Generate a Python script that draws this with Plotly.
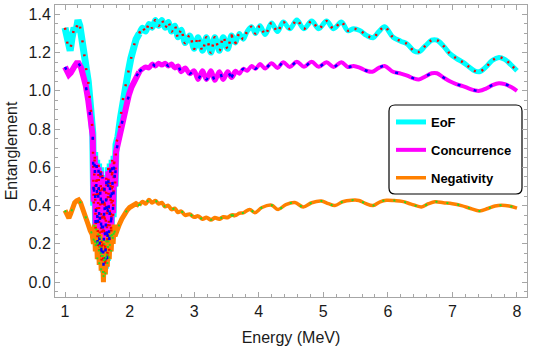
import plotly.graph_objects as go

# ---------------- data ----------------
eof_x = [1.00, 1.03, 1.05, 1.08, 1.11, 1.14, 1.17, 1.20, 1.23, 1.28, 1.32, 1.36, 1.40, 1.43,
         1.445, 1.46, 1.475, 1.49, 1.505, 1.52, 1.535, 1.55, 1.565, 1.58, 1.595, 1.61, 1.625,
         1.64, 1.655, 1.67, 1.685, 1.70, 1.715, 1.73, 1.745, 1.76, 1.775, 1.79,
         1.82, 1.86, 1.90, 1.94, 1.98, 2.02, 2.06, 2.10, 2.15, 2.20, 2.25, 2.30, 2.35, 2.40,
         2.45, 2.50, 2.55, 2.60, 2.65, 2.70, 2.75, 2.80, 2.86, 2.93, 3.00, 3.06, 3.13, 3.19,
         3.26, 3.32, 3.39, 3.45, 3.52, 3.58, 3.64, 3.70, 3.76, 3.82, 3.89, 3.95, 4.02, 4.10,
         4.20, 4.29, 4.38, 4.48, 4.59, 4.70, 4.82, 4.93, 5.05, 5.16, 5.28, 5.38, 5.47, 5.57,
         5.67, 5.77, 5.86, 5.95, 6.08, 6.20, 6.30, 6.40, 6.48, 6.58, 6.68, 6.76, 6.86, 6.96,
         7.06, 7.16, 7.26, 7.34, 7.42, 7.52, 7.62, 7.72, 7.81, 7.91, 8.00]
eof_y = [1.33, 1.27, 1.22, 1.21, 1.28, 1.33, 1.31, 1.37, 1.34, 1.24, 1.13, 1.05, 0.90, 0.78,
         0.40, 0.68, 0.26, 0.64, 0.18, 0.62, 0.14, 0.60, 0.09, 0.56, 0.05, 0.52, 0.07,
         0.56, 0.11, 0.60, 0.16, 0.62, 0.24, 0.64, 0.34, 0.66, 0.50, 0.72,
         0.76, 0.86, 0.96, 1.03, 1.10, 1.17, 1.23, 1.27, 1.30, 1.33, 1.31, 1.35, 1.33, 1.37,
         1.34, 1.37, 1.33, 1.36, 1.31, 1.34, 1.28, 1.32, 1.25, 1.29, 1.22, 1.28, 1.21, 1.28,
         1.20, 1.28, 1.21, 1.28, 1.22, 1.29, 1.25, 1.30, 1.27, 1.31, 1.335, 1.30, 1.34, 1.295,
         1.355, 1.31, 1.36, 1.325, 1.37, 1.325, 1.365, 1.325, 1.365, 1.325, 1.36, 1.315, 1.325, 1.315,
         1.29, 1.278, 1.31, 1.335, 1.28, 1.26, 1.245, 1.21, 1.204, 1.235, 1.265, 1.265, 1.235, 1.195,
         1.17, 1.15, 1.125, 1.105, 1.10, 1.125, 1.16, 1.175, 1.165, 1.135, 1.105]

conc_x = [1.00, 1.03, 1.06, 1.09, 1.12, 1.15, 1.18, 1.21, 1.25, 1.29, 1.32, 1.36, 1.40, 1.43,
          1.445, 1.46, 1.475, 1.49, 1.505, 1.52, 1.535, 1.55, 1.565, 1.58, 1.595, 1.61, 1.625,
          1.64, 1.655, 1.67, 1.685, 1.70, 1.715, 1.73, 1.745, 1.76, 1.775, 1.79,
          1.83, 1.87, 1.91, 1.95, 1.99, 2.03, 2.07, 2.11, 2.15, 2.20, 2.25, 2.30, 2.35, 2.40,
          2.45, 2.50, 2.55, 2.60, 2.65, 2.70, 2.75, 2.80, 2.86, 2.93, 3.00, 3.06, 3.13, 3.19,
          3.26, 3.32, 3.39, 3.45, 3.52, 3.58, 3.64, 3.70, 3.76, 3.82, 3.89, 3.95, 4.02, 4.10,
          4.20, 4.29, 4.38, 4.48, 4.59, 4.70, 4.82, 4.93, 5.05, 5.16, 5.28, 5.38, 5.47, 5.57,
          5.67, 5.76, 5.86, 5.95, 6.08, 6.20, 6.30, 6.40, 6.48, 6.58, 6.68, 6.76, 6.86, 6.96,
          7.06, 7.16, 7.26, 7.34, 7.42, 7.52, 7.62, 7.72, 7.81, 7.91, 8.00]
conc_y = [1.125, 1.10, 1.085, 1.095, 1.12, 1.13, 1.145, 1.145, 1.12, 1.07, 1.03, 0.95, 0.85, 0.76,
          0.42, 0.66, 0.28, 0.62, 0.20, 0.60, 0.15, 0.58, 0.10, 0.55, 0.06, 0.50, 0.08,
          0.54, 0.12, 0.58, 0.18, 0.60, 0.26, 0.62, 0.36, 0.64, 0.50, 0.68,
          0.74, 0.82, 0.88, 0.93, 0.98, 1.02, 1.05, 1.08, 1.10, 1.115, 1.125, 1.12, 1.14, 1.13,
          1.145, 1.135, 1.145, 1.13, 1.14, 1.12, 1.13, 1.10, 1.12, 1.09, 1.105, 1.06, 1.105, 1.06,
          1.105, 1.055, 1.10, 1.06, 1.10, 1.07, 1.105, 1.09, 1.115, 1.105, 1.13, 1.115, 1.14, 1.117,
          1.145, 1.12, 1.15, 1.125, 1.152, 1.126, 1.152, 1.126, 1.15, 1.125, 1.15, 1.125, 1.13, 1.12,
          1.105, 1.10, 1.12, 1.13, 1.10, 1.09, 1.08, 1.065, 1.06, 1.075, 1.092, 1.092, 1.07, 1.05,
          1.035, 1.025, 1.012, 1.003, 1.0, 1.012, 1.03, 1.04, 1.035, 1.02, 1.0]

neg_x = [1.00, 1.03, 1.06, 1.09, 1.12, 1.15, 1.18, 1.21, 1.24, 1.27, 1.30, 1.33, 1.36, 1.39, 1.42,
         1.44, 1.455, 1.47, 1.485, 1.50, 1.515, 1.53, 1.545, 1.56, 1.575, 1.595, 1.61, 1.625,
         1.64, 1.655, 1.67, 1.685, 1.70, 1.715, 1.73, 1.745, 1.76, 1.775,
         1.80, 1.84, 1.88, 1.92, 1.96, 2.00, 2.05, 2.10, 2.15, 2.20, 2.25, 2.30, 2.35, 2.40,
         2.45, 2.50, 2.55, 2.60, 2.65, 2.70, 2.75, 2.80, 2.86, 2.93, 3.00, 3.06, 3.13, 3.19,
         3.26, 3.32, 3.39, 3.45, 3.52, 3.58, 3.64, 3.70, 3.76, 3.86, 3.94, 4.05, 4.20, 4.30,
         4.42, 4.56, 4.69, 4.82, 4.97, 5.08, 5.18, 5.30, 5.44, 5.55, 5.65, 5.77, 5.88, 5.98,
         6.10, 6.22, 6.36, 6.52, 6.63, 6.73, 6.86, 7.00, 7.14, 7.28, 7.42, 7.55, 7.66, 7.76,
         7.88, 8.00]
neg_y = [0.375, 0.345, 0.335, 0.36, 0.395, 0.415, 0.425, 0.43, 0.415, 0.39, 0.36, 0.33, 0.30, 0.27, 0.25,
         0.20, 0.30, 0.16, 0.28, 0.12, 0.27, 0.09, 0.25, 0.06, 0.22, 0.00, 0.20, 0.04,
         0.22, 0.08, 0.24, 0.12, 0.26, 0.16, 0.28, 0.20, 0.30, 0.24,
         0.27, 0.30, 0.33, 0.355, 0.375, 0.39, 0.40, 0.41, 0.40, 0.42, 0.41, 0.43, 0.415, 0.425,
         0.41, 0.415, 0.395, 0.40, 0.38, 0.385, 0.365, 0.37, 0.35, 0.355, 0.34, 0.345, 0.33, 0.338,
         0.326, 0.336, 0.33, 0.34, 0.338, 0.35, 0.348, 0.36, 0.362, 0.38, 0.363, 0.39, 0.402, 0.38,
         0.405, 0.416, 0.393, 0.415, 0.424, 0.41, 0.40, 0.42, 0.428, 0.427, 0.412, 0.40, 0.42, 0.428,
         0.426, 0.422, 0.408, 0.393, 0.41, 0.42, 0.415, 0.41, 0.40, 0.385, 0.372, 0.385, 0.398, 0.402,
         0.398, 0.387]

x_ticks = [1, 2, 3, 4, 5, 6, 7, 8]
series_names = ["EoF", "Concurrence", "Negativity"]

# ---------------- styling ----------------
SEGMENTS = [(1.0, 2.15, "linear"), (2.15, 3.60, "spline"), (3.60, 8.0, "spline")]
solid_colors = ["#00ffff", "#ff00ff", "#ff8000"]
solid_widths = [[7, 6, 5], [6, 5, 4], [5, 4, 3.5]]
dash_colors = ["#ff0000", "#0000ff", "#22dd22"]
dash_styles = [["2px,12px", "2px,6px", "2px,6px"],
               ["3px,22px", "3px,14px", "3px,14px"],
               ["2px,14px", "2px,9px", "2px,9px"]]
dash_widths = [2.5, 2.5, 2]


def seg_slice(xs, ys, lo, hi):
    idx = [i for i, x in enumerate(xs) if lo <= x <= hi]
    start = max(idx[0] - 1, 0) if xs[idx[0]] > lo else idx[0]
    end = idx[-1] + 1
    if end < len(xs) and xs[end - 1] < hi:
        end += 1
    return xs[start:end], ys[start:end]


data = [(eof_x, eof_y), (conc_x, conc_y), (neg_x, neg_y)]
fig = go.Figure()

for k, (xs, ys) in enumerate(data):
    for s, (lo, hi, shape) in enumerate(SEGMENTS):
        sx, sy = seg_slice(xs, ys, lo, hi)
        fig.add_trace(go.Scatter(
            x=sx, y=sy, mode="lines", name=series_names[k],
            legendgroup=series_names[k], showlegend=(s == len(SEGMENTS) - 1),
            line=dict(color=solid_colors[k], width=solid_widths[k][s], shape=shape),
            hoverinfo="skip"))

for k, (xs, ys) in enumerate(data):
    for s, (lo, hi, shape) in enumerate(SEGMENTS):
        sx, sy = seg_slice(xs, ys, lo, hi)
        fig.add_trace(go.Scatter(
            x=sx, y=sy, mode="lines", name=series_names[k] + " (overlay)",
            legendgroup=series_names[k], showlegend=False,
            line=dict(color=dash_colors[k], width=dash_widths[k], shape=shape,
                      dash=dash_styles[k][s]),
            hoverinfo="skip"))

# plot area in pixels: x 55..527, y 5..296.7
L, R, T, B = 55, 7, 5, 52
W, H = 534, 349
pw, ph = W - L - R, H - T - B


def px_x(p):
    return (p - L) / pw


def px_y(p):
    return 1 - (p - T) / ph


bx0, bx1, by0, by1 = px_x(389), px_x(522), px_y(105), px_y(194)
rx, ry = 6 / pw, 6 / ph
path = (f"M {bx0+rx},{by0} L {bx1-rx},{by0} Q {bx1},{by0} {bx1},{by0-ry} "
        f"L {bx1},{by1+ry} Q {bx1},{by1} {bx1-rx},{by1} L {bx0+rx},{by1} "
        f"Q {bx0},{by1} {bx0},{by1+ry} L {bx0},{by0-ry} Q {bx0},{by0} {bx0+rx},{by0} Z")
fig.add_shape(type="path", path=path, xref="paper", yref="paper",
              line=dict(color="#000000", width=1.2), fillcolor="white", layer="below")

frame = "#a6a6a6"
font_fam = "Liberation Sans, Arial, sans-serif"
fig.update_layout(
    width=W, height=H,
    margin=dict(l=L, r=R, t=T, b=B, autoexpand=False),
    paper_bgcolor="white", plot_bgcolor="rgba(0,0,0,0)",
    font=dict(family=font_fam, size=16, color="#1a1a1a"),
    showlegend=True,
    legend=dict(x=px_x(391), y=px_y(107), xanchor="left", yanchor="top",
                bgcolor="rgba(0,0,0,0)", borderwidth=0,
                traceorder="grouped", tracegroupgap=8,
                font=dict(family=font_fam, size=13, color="#000000", weight="bold")),
    xaxis=dict(range=[0.845, 8.155], tickvals=x_ticks, ticks="inside", ticklen=5,
               tickcolor=frame, showline=True, linecolor=frame, linewidth=1, mirror="ticks",
               showgrid=False, zeroline=False, automargin=False,
               minor=dict(dtick=0.2, tick0=0, ticks="inside", ticklen=3, tickcolor=frame,
                          showgrid=False),
               title=dict(text="Energy (MeV)", font=dict(size=16), standoff=12),
               tickfont=dict(size=16)),
    yaxis=dict(range=[-0.078, 1.449], dtick=0.2, tick0=0, tickformat=".1f",
               ticks="inside", ticklen=5, tickcolor=frame,
               showline=True, linecolor=frame, linewidth=1, mirror="ticks",
               showgrid=False, zeroline=False, automargin=False,
               minor=dict(dtick=0.05, tick0=0, ticks="inside", ticklen=3, tickcolor=frame,
                          showgrid=False),
               title=dict(text="Entanglement", font=dict(size=16), standoff=6),
               tickfont=dict(size=16)),
)

fig.write_html("out.html", config={"displayModeBar": False},
               post_script="document.body.style.margin='0px';")
